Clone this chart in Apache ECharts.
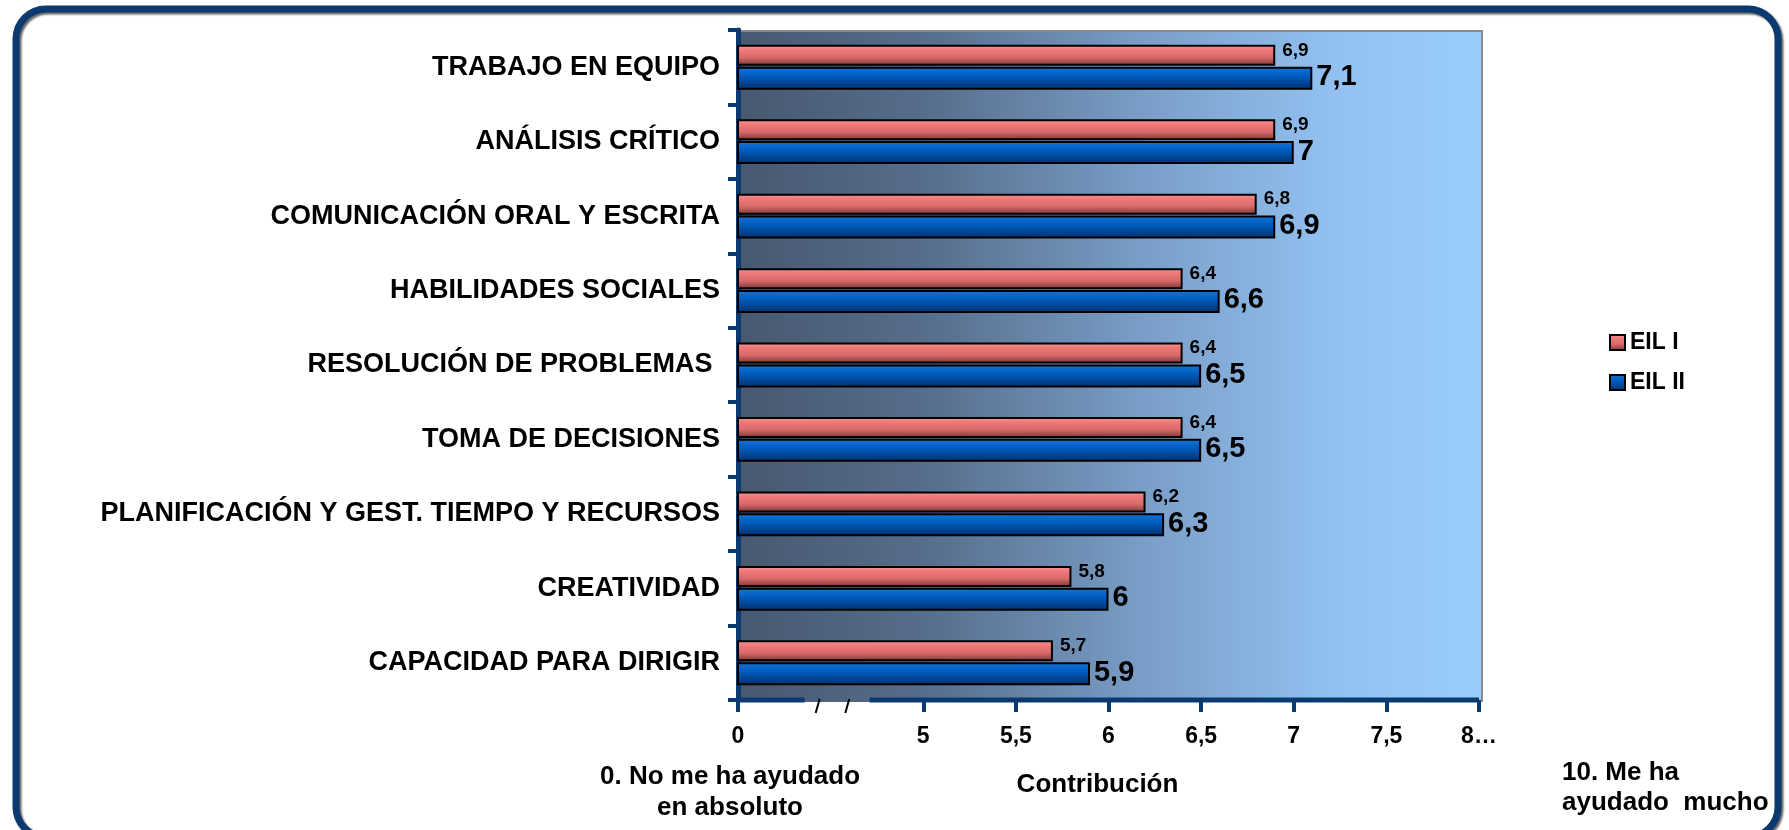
<!DOCTYPE html>
<html>
<head>
<meta charset="utf-8">
<script src="https://cdn.jsdelivr.net/npm/echarts@6/dist/echarts.min.js"></script>
<style>
  html, body { margin: 0; padding: 0; background: #fff; }
  #main { width: 1789px; height: 830px; }
</style>
</head>
<body>
<div id="main"></div>
<script>
// datos
var categorias = ['TRABAJO EN EQUIPO', 'ANÁLISIS CRÍTICO', 'COMUNICACIÓN ORAL Y ESCRITA', 'HABILIDADES SOCIALES',
    'RESOLUCIÓN DE PROBLEMAS ', 'TOMA DE DECISIONES', 'PLANIFICACIÓN Y GEST. TIEMPO Y RECURSOS', 'CREATIVIDAD',
    'CAPACIDAD PARA DIRIGIR'];
var eil1 = [6.9, 6.9, 6.8, 6.4, 6.4, 6.4, 6.2, 5.8, 5.7];
var eil2 = [7.1, 7.0, 6.9, 6.6, 6.5, 6.5, 6.3, 6.0, 5.9];
// eje roto: el 0 se dibuja en la posicion 4
var tickValues = [4, 5, 5.5, 6, 6.5, 7, 7.5, 8];
var tickLabels = ['0', '5', '5,5', '6', '6,5', '7', '7,5', '8…'];

var NAVY = '#0b3a70';
var FONT = "'Liberation Sans', Arial, sans-serif";
var G = { left: 738, top: 30, width: 741, height: 670 };

var chart = echarts.init(document.getElementById('main'));

function coma(v) { return String(v).replace('.', ','); }

var rojo = new echarts.graphic.LinearGradient(0, 0, 0, 1, [
    { offset: 0, color: '#f59a9a' },
    { offset: 0.25, color: '#f07878' },
    { offset: 0.6, color: '#d86a6a' },
    { offset: 1, color: '#7a3434' }
]);
var azul = new echarts.graphic.LinearGradient(0, 0, 0, 1, [
    { offset: 0, color: '#1a74d6' },
    { offset: 0.35, color: '#0060c4' },
    { offset: 1, color: '#00306e' }
]);

var option = {
    backgroundColor: '#fff',
    animation: false,
    grid: { left: G.left, top: G.top, width: G.width, height: G.height, containLabel: false },
    legend: {
        orient: 'vertical',
        left: 1604,
        top: 326,
        itemWidth: 15,
        itemHeight: 15,
        itemGap: 17,
        icon: 'rect',
        textStyle: { fontFamily: FONT, fontWeight: 'bold', fontSize: 23, color: '#000' },
        data: ['EIL I', 'EIL II']
    },
    xAxis: {
        type: 'value',
        min: 4,
        max: 8,
        interval: 0.5,
        name: 'Contribución',
        nameLocation: 'middle',
        nameGap: 72,
        nameTextStyle: { fontFamily: FONT, fontWeight: 'bold', fontSize: 26, color: '#000', padding: [0, 22, 0, 0] },
        axisLine: { show: false },
        axisTick: { show: true, length: 12, customValues: tickValues, lineStyle: { color: NAVY, width: 4 } },
        axisLabel: {
            customValues: tickValues,
            margin: 25,
            fontFamily: FONT, fontWeight: 'bold', fontSize: 23, color: '#000',
            formatter: function (v) { return tickLabels[tickValues.indexOf(v)]; }
        },
        splitLine: { show: false }
    },
    yAxis: {
        type: 'category',
        inverse: true,
        data: categorias,
        axisLine: { show: true, lineStyle: { color: NAVY, width: 5 } },
        axisTick: { show: true, length: 10, lineStyle: { color: NAVY, width: 4 } },
        axisLabel: { margin: 18, fontFamily: FONT, fontWeight: 'bold', fontSize: 27, color: '#000' }
    },
    series: [
        {
            name: 'EIL I',
            type: 'bar',
            data: eil1,
            barWidth: 21,
            barGap: '4%',
            itemStyle: { color: rojo, borderColor: '#000', borderWidth: 2 },
            label: {
                show: true, position: 'right', distance: 7, offset: [0, -5],
                fontFamily: FONT, fontWeight: 'bold', fontSize: 19, color: '#000',
                formatter: function (p) { return coma(p.value); }
            },
            z: 3
        },
        {
            name: 'EIL II',
            type: 'bar',
            data: eil2,
            barWidth: 23,
            itemStyle: { color: azul, borderColor: '#000', borderWidth: 2 },
            label: {
                show: true, position: 'right', distance: 4, offset: [0, -1],
                fontFamily: FONT, fontWeight: 'bold', fontSize: 29, color: '#000',
                formatter: function (p) { return coma(p.value); }
            },
            z: 4
        }
    ]
};

chart.setOption(option);

// marco, fondo del area y eje x con corte
var px = function (v) { return chart.convertToPixel({ xAxisIndex: 0 }, v); };
var yb = G.top + G.height;
var xr = G.left + G.width;

chart.setOption({
    graphic: [
        {
            type: 'rect', z: -20, silent: true,
            shape: { x: 16, y: 9, width: 1762, height: 828, r: 30 },
            style: { fill: '#fff', stroke: NAVY, lineWidth: 7, shadowColor: 'rgba(0,0,0,0.6)', shadowBlur: 2, shadowOffsetX: 2, shadowOffsetY: 2 }
        },
        {
            type: 'rect', z: -10, silent: true,
            shape: { x: G.left, y: G.top, width: G.width + 4, height: G.height + 2 },
            style: {
                fill: new echarts.graphic.LinearGradient(0, 0, 1, 0, [
                    { offset: 0, color: '#485870' },
                    { offset: 0.25, color: '#566d8b' },
                    { offset: 0.55, color: '#7a9fc8' },
                    { offset: 0.8, color: '#92c1f1' },
                    { offset: 1, color: '#9acdfd' }
                ])
            }
        },
        {
            type: 'polyline', z: -9, silent: true,
            shape: { points: [[G.left, G.top + 1], [xr + 3, G.top + 1], [xr + 3, yb + 2]] },
            style: { stroke: '#8a8a8a', lineWidth: 2, fill: null }
        },
        {
            type: 'line', z: 5, silent: true,
            shape: { x1: G.left - 2, y1: yb, x2: px(4.36), y2: yb },
            style: { stroke: NAVY, lineWidth: 5 }
        },
        {
            type: 'line', z: 5, silent: true,
            shape: { x1: px(4.71), y1: yb, x2: xr, y2: yb },
            style: { stroke: NAVY, lineWidth: 5 }
        },
        {
            type: 'line', z: 5, silent: true,
            shape: { x1: px(4.43) + 2, y1: yb - 1, x2: px(4.43) - 2, y2: yb + 13 },
            style: { stroke: '#000', lineWidth: 2 }
        },
        {
            type: 'line', z: 5, silent: true,
            shape: { x1: px(4.59) + 2, y1: yb - 1, x2: px(4.59) - 2, y2: yb + 13 },
            style: { stroke: '#000', lineWidth: 2 }
        },
        {
            type: 'text', silent: true,
            style: {
                x: 730, y: 792, text: '0. No me ha ayudado\nen absoluto',
                align: 'center', verticalAlign: 'middle', lineHeight: 31,
                font: 'bold 26px ' + FONT, fill: '#000'
            }
        },
        {
            type: 'text', silent: true,
            style: {
                x: 1562, y: 788, text: '10. Me ha\nayudado  mucho',
                align: 'left', verticalAlign: 'middle', lineHeight: 30,
                font: 'bold 26px ' + FONT, fill: '#000'
            }
        }
    ]
});
</script>
</body>
</html>
